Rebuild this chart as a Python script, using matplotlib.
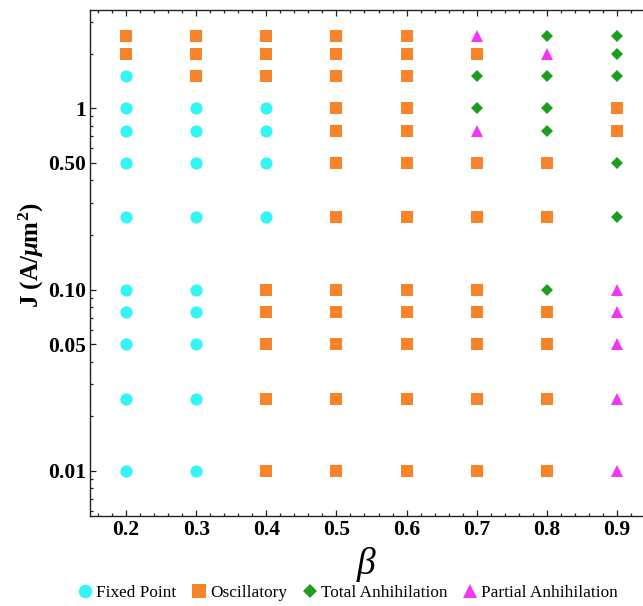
import matplotlib
matplotlib.use("Agg")
import matplotlib.pyplot as plt
from matplotlib.lines import Line2D
from matplotlib.ticker import FixedLocator, NullFormatter, FixedFormatter
import numpy as np

plt.rcParams['font.family'] = ['Liberation Serif', 'DejaVu Serif']
plt.rcParams['mathtext.fontset'] = 'custom'
plt.rcParams['mathtext.rm'] = 'Liberation Serif:bold'
plt.rcParams['mathtext.it'] = 'Liberation Serif:italic:bold'
plt.rcParams['mathtext.bf'] = 'Liberation Serif:bold'

# ---- data ----
beta = [0.2, 0.3, 0.4, 0.5, 0.6, 0.7, 0.8, 0.9]
J = [0.01, 0.025, 0.05, 0.075, 0.1, 0.25, 0.5, 0.75, 1.0, 1.5, 2.0, 2.5]
# phase codes per beta column, ordered as J (bottom to top)
# F = Fixed Point, O = Oscillatory, T = Total Anhihilation, P = Partial Anhihilation
phase_b02 = ['F', 'F', 'F', 'F', 'F', 'F', 'F', 'F', 'F', 'F', 'O', 'O']
phase_b03 = ['F', 'F', 'F', 'F', 'F', 'F', 'F', 'F', 'F', 'O', 'O', 'O']
phase_b04 = ['O', 'O', 'O', 'O', 'O', 'F', 'F', 'F', 'F', 'O', 'O', 'O']
phase_b05 = ['O', 'O', 'O', 'O', 'O', 'O', 'O', 'O', 'O', 'O', 'O', 'O']
phase_b06 = ['O', 'O', 'O', 'O', 'O', 'O', 'O', 'O', 'O', 'O', 'O', 'O']
phase_b07 = ['O', 'O', 'O', 'O', 'O', 'O', 'O', 'P', 'T', 'T', 'O', 'P']
phase_b08 = ['O', 'O', 'O', 'O', 'T', 'O', 'O', 'T', 'T', 'T', 'P', 'T']
phase_b09 = ['P', 'P', 'P', 'P', 'P', 'T', 'T', 'O', 'O', 'T', 'T', 'T']
phases = [phase_b02, phase_b03, phase_b04, phase_b05,
          phase_b06, phase_b07, phase_b08, phase_b09]

categories = ['F', 'O', 'T', 'P']
labels = ['Fixed Point', 'Oscillatory', 'Total Anhihilation', 'Partial Anhihilation']
colors = {'F': '#33F5F5', 'O': '#F7842A', 'T': '#1E9E1E', 'P': '#F535F5'}
markers = {'F': 'o', 'O': 's', 'T': 'D', 'P': '^'}
msizes = {'F': 8.8, 'O': 8.8, 'T': 6.3, 'P': 9.0}

y_major = [0.01, 0.05, 0.10, 0.50, 1]
y_major_labels = ['0.01', '0.05', '0.10', '0.50', '1']
x_ticks = [0.2, 0.3, 0.4, 0.5, 0.6, 0.7, 0.8, 0.9]

# ---- figure ----
W, H = 643, 606
fig = plt.figure(figsize=(W / 100, H / 100), dpi=100)
ax = fig.add_axes([90 / W, 1 - 516 / H, 560 / W, 506 / H])

for c in categories:
    xs, ys = [], []
    for b, col in zip(beta, phases):
        for j, p in zip(J, col):
            if p == c:
                xs.append(b)
                ys.append(j)
    ax.plot(xs, ys, linestyle='none', marker=markers[c], ms=msizes[c],
            color=colors[c], markeredgewidth=0, clip_on=False, zorder=3)

ax.set_yscale('log')
ax.set_xlim(0.2 - 36 / 701.4, 0.2 + 524 / 701.4)
ax.set_ylim(10 ** (-2 - 45 / 181.0), 10 ** (98 / 181.0))

ax.yaxis.set_major_locator(FixedLocator(y_major))
ax.yaxis.set_major_formatter(FixedFormatter(y_major_labels))
minor = []
for dec in [0.001, 0.01, 0.1, 1]:
    for k in range(2, 10):
        v = k * dec
        if all(abs(v - m) > 1e-9 for m in y_major):
            minor.append(v)
ax.yaxis.set_minor_locator(FixedLocator(minor))
ax.yaxis.set_minor_formatter(NullFormatter())

ax.set_xticks(x_ticks)
ax.set_xticklabels([f'{v:.1f}' for v in x_ticks])
ax.xaxis.set_minor_locator(FixedLocator(np.arange(0.14, 0.96, 0.02)))

ax.tick_params(which='both', direction='in', top=True, right=False,
               width=0.9, colors='#222222', labelcolor='black',
               labelsize=15.5, pad=3)
ax.tick_params(which='major', length=4)
ax.tick_params(which='minor', length=2.5)
for lab in ax.get_xticklabels() + ax.get_yticklabels():
    lab.set_fontweight('bold')

for s in ['left', 'bottom', 'top']:
    ax.spines[s].set_linewidth(1.0)
    ax.spines[s].set_color('#222222')
ax.spines['right'].set_visible(False)

ax.set_ylabel(r'J (A/$\mu$m$^2$)', fontsize=18, fontweight='bold')
ax.yaxis.label.set_va('center')
ax.yaxis.set_label_coords(-59 / 560, (516 - 255) / 506)
ax.set_xlabel('β', fontsize=27, fontstyle='italic')
ax.xaxis.label.set_va('center')
ax.xaxis.set_label_coords(276 / 560, -48 / 506)

handles = [Line2D([], [], linestyle='none', marker=markers[c],
                  ms=msizes[c] * 1.1, color=colors[c], markeredgewidth=0)
           for c in categories]
fig.legend(handles, labels, loc='center', bbox_to_anchor=(348 / W, 1 - 593 / H),
           ncol=4, frameon=False, fontsize=12.4, handlelength=0.8,
           handletextpad=0.25, columnspacing=0.9, borderpad=0)

fig.savefig('out.png', dpi=100)
